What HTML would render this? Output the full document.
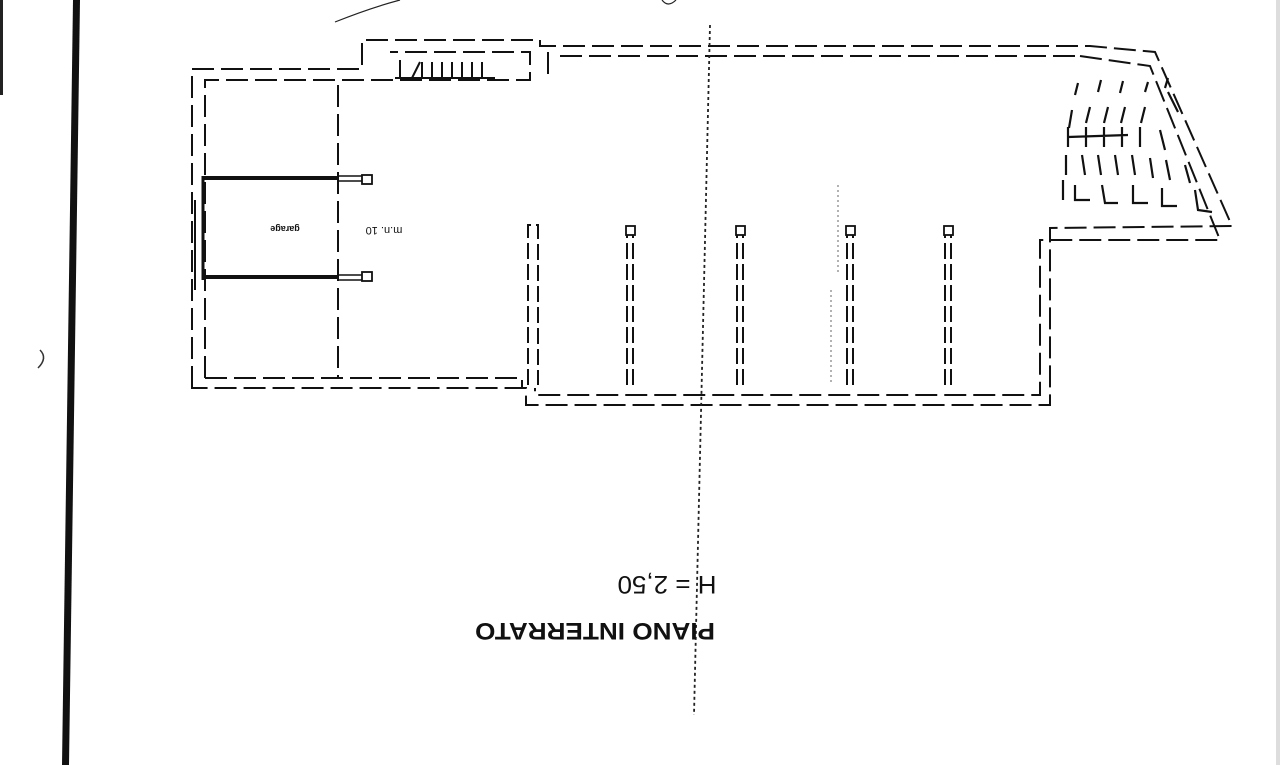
<!DOCTYPE html>
<html><head><meta charset="utf-8"><style>
html,body{margin:0;padding:0;background:#fff;}
svg{display:block;}
text{font-family:"Liberation Sans",sans-serif;}
</style></head><body>
<svg width="1280" height="765" viewBox="0 0 1280 765" xmlns="http://www.w3.org/2000/svg">
<rect width="1280" height="765" fill="#fff"/>
<rect x="0" y="0" width="3" height="95" fill="#222"/>
<polygon points="73,0 80,0 69,765 62,765" fill="#111"/>
<rect x="1276" y="0" width="4" height="765" fill="#ddd"/>
<path d="M335,22 Q370,8 400,0" stroke="#222" fill="none" stroke-width="1.2"/>
<path d="M662,0 Q668,8 676,0" stroke="#222" fill="none" stroke-width="1.2"/>
<g fill="none" stroke="#111" stroke-width="2" stroke-dasharray="22,7">
<path d="M192,388 L192,69 L362,69 L362,40 L540,40 L540,46 L1090,46 L1155,52 L1232,226 L1050,228 L1050,405 L526,405 L526,388 Z"/>
<path d="M205,378 L205,80 L530,80 L530,52 L390,52 M560,56 L1080,56 M1080,56 L1150,66 L1220,240 L1040,240 L1040,395 L535,395 L535,388 M205,378 L522,378 L522,388"/>
<path d="M338,85 L338,378"/>
<path d="M548,52 L548,80"/>
</g>
<g fill="none" stroke="#111" stroke-width="2" stroke-dasharray="16,5">
<path d="M528,385 L528,225 L538,225 L538,385"/>
<path d="M627,385 L627,235 M633,385 L633,235"/>
<path d="M737,385 L737,235 M743,385 L743,235"/>
<path d="M847,385 L847,235 M853,385 L853,235"/>
<path d="M945,385 L945,235 M951,385 L951,235"/>
</g>
<g fill="#fff" stroke="#111" stroke-width="1.8">
<rect x="626" y="226" width="9" height="9"/>
<rect x="736" y="226" width="9" height="9"/>
<rect x="846" y="226" width="9" height="9"/>
<rect x="944" y="226" width="9" height="9"/>
<rect x="362" y="175" width="10" height="9"/>
<rect x="362" y="272" width="10" height="9"/>
</g>
<g stroke="#111" fill="none">
<path d="M203,178 L338,178 M203,277 L338,277" stroke-width="4"/>
<path d="M203,176 L203,280" stroke-width="3"/>
<path d="M338,176 L362,176 M338,181 L362,181 M338,275 L362,275 M338,280 L362,280" stroke-width="1.5"/>
<path d="M195,200 L195,290" stroke-width="2"/>
</g>
<g stroke="#111" stroke-width="2">
<path d="M395,78 L495,78"/>
<path d="M400,60 L400,78 M420,62 L412,78 M422,62 L422,78 M432,62 L432,78 M442,62 L442,78 M452,62 L452,78 M462,62 L462,78 M472,62 L472,78 M482,62 L482,78"/>
</g>
<g stroke="#111" stroke-width="2.2" fill="none">
<path d="M1075,95 l3,-12 M1098,92 l3,-12 M1120,93 l3,-12 M1145,92 l3,-10 M1165,88 l3,-10"/>
<path d="M1072,110 l-3,18 M1090,107 l-4,16 M1108,107 l-4,16 M1125,107 l-4,16 M1145,107 l-4,16 M1168,92 l10,20"/>
<path d="M1068,127 l0,20 M1086,127 l0,20 M1104,127 l0,20 M1122,127 l0,20 M1140,127 l0,20 M1068,137 l60,-2 M1160,130 l5,20"/>
<path d="M1066,155 l0,20 M1082,155 l3,20 M1098,155 l3,20 M1115,155 l3,20 M1132,155 l3,20 M1150,158 l3,20 M1166,160 l4,20 M1185,165 l5,18"/>
<path d="M1063,180 l0,20 M1075,185 l0,15 L1090,200 M1102,185 l3,18 L1118,203 M1133,185 l0,18 L1148,203 M1162,188 l0,18 L1177,206 M1195,190 l3,20 L1212,212"/>
</g>
<path d="M710,25 L694,715" stroke="#222" stroke-width="1.8" stroke-dasharray="3,3" fill="none"/>
<path d="M838,185 L838,275 M831,290 L831,385" stroke="#999" stroke-width="1.5" stroke-dasharray="2,3" fill="none"/>
<text transform="rotate(180 595 632)" x="595" y="641" text-anchor="middle" font-size="24" font-weight="bold" fill="#111" textLength="240" lengthAdjust="spacingAndGlyphs">PIANO INTERRATO</text>
<text transform="rotate(180 667 585)" x="667" y="594" text-anchor="middle" font-size="25" fill="#111" textLength="99" lengthAdjust="spacingAndGlyphs">H = 2,50</text>
<text transform="rotate(180 285 229)" x="285" y="232" text-anchor="middle" font-size="9" font-weight="bold" fill="#111">garage</text>
<text transform="rotate(180 384 231)" x="384" y="235" text-anchor="middle" font-size="11" fill="#111">m.n. 10</text>
<path d="M40,350 Q48,358 38,368" stroke="#333" fill="none" stroke-width="1.5"/>
</svg>
</body></html>
